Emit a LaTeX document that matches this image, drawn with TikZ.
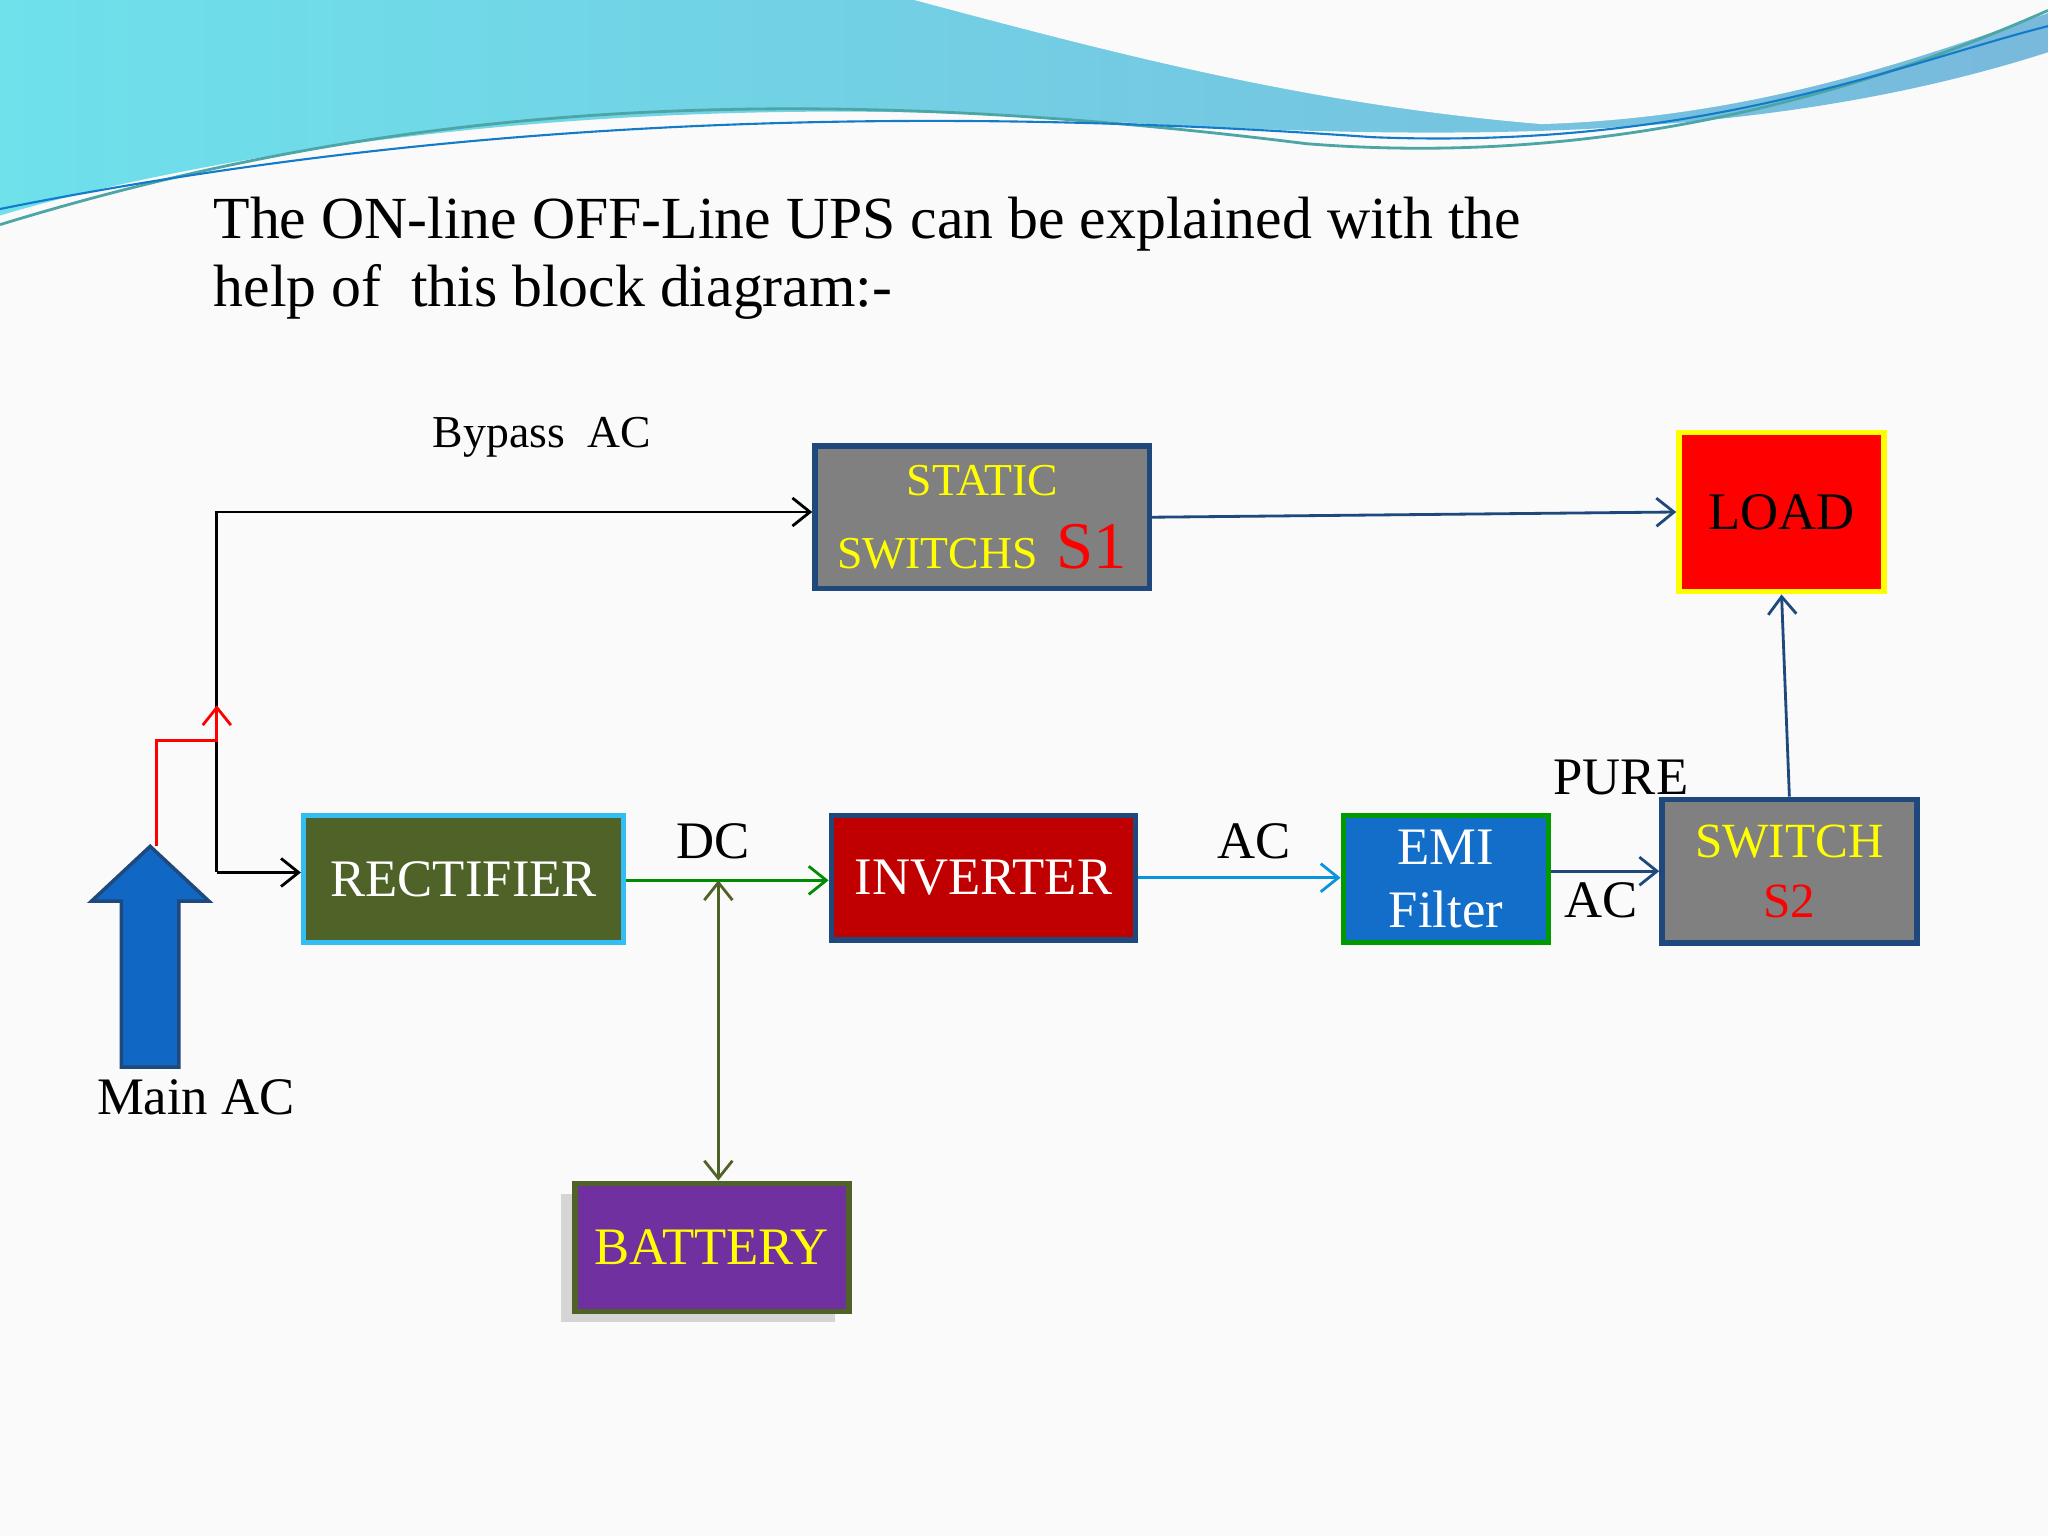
\documentclass[tikz,border=0pt]{standalone}
\usepackage{fontspec}
\setmainfont{Liberation Serif}
\usetikzlibrary{arrows.meta,shadows}
\definecolor{bdblue}{RGB}{31,73,125}
\definecolor{grayf}{RGB}{128,128,128}
\definecolor{olivef}{RGB}{79,98,40}
\definecolor{darkred}{RGB}{192,0,0}
\definecolor{emiblue}{RGB}{18,110,200}
\definecolor{purp}{RGB}{112,48,160}
\definecolor{yel}{RGB}{255,255,0}
\definecolor{arrblue}{RGB}{16,104,196}
\definecolor{waveL}{RGB}{110,225,235}
\definecolor{waveR}{RGB}{120,185,220}
\begin{document}
\begin{tikzpicture}[x=0.01306cm,y=-0.01306cm,
  blk/.style 2 args={draw,line width=1.6pt,minimum width={#1*0.3716pt},minimum height={#2*0.3716pt},inner sep=0pt,align=center,font=\fontsize{14}{17}\selectfont},
  con/.style={line width=0.8pt,-{Straight Barb[length=5pt,width=8pt]}},
  lbl/.style={font=\fontsize{13}{16}\selectfont}]
\useasboundingbox (0,0) rectangle (1568,1176);
\fill[white!96!gray] (0,0) rectangle (1568,1176);
% top wave
\shade[left color=waveL, right color=waveR]
 (0,0) -- (1568,0) -- (1568,40) .. controls (1350,110) and (1100,110) .. (800,90)
 .. controls (450,70) and (150,120) .. (0,165) -- cycle;
\fill[white!96!gray] (700,0) .. controls (850,40) and (1000,80) .. (1180,95) .. controls (1350,90) and (1480,40) .. (1568,10) -- (1568,0) -- cycle;
\draw[teal!70,line width=0.8pt] (0,172) .. controls (300,80) and (600,60) .. (1000,110) .. controls (1250,130) and (1450,60) .. (1568,8);
\draw[cyan!60!blue,line width=0.6pt] (0,160) .. controls (350,90) and (700,80) .. (1050,105) .. controls (1300,115) and (1450,50) .. (1568,20);
% title
\node[anchor=north west,align=left,font=\fontsize{17}{19.5}\selectfont,inner sep=0pt] (title) at (163,150)
 {The ON-line OFF-Line UPS can be explained with the\\help of~ this block diagram:-};
% blocks
\node[blk={256}{109},fill=grayf,draw=bdblue,font=\fontsize{13}{15}\selectfont] (s1) at (752,396)
 {\color{yel}STATIC\\[6pt]\color{yel}SWITCHS \,{\color{red}\fontsize{19}{19}\selectfont S1}};
\node[blk={157}{122},fill=red,draw=yel,font=\fontsize{15}{19}\selectfont] (load) at (1364,392) {LOAD};
\node[blk={245}{97},fill=olivef,draw=cyan!80,text=white,font=\fontsize{15}{19}\selectfont] (rect) at (355,673) {RECTIFIER};
\node[blk={233}{95},fill=darkred,draw=bdblue,text=white,font=\fontsize{15}{19}\selectfont] (inv) at (753,672) {INVERTER};
\node[blk={157}{97},fill=emiblue,draw=green!60!black,text=white,font=\fontsize{15}{18}\selectfont] (emi) at (1107,673) {EMI\\Filter};
\node[blk={195}{110},fill=grayf,draw=bdblue,font=\fontsize{14}{17}\selectfont] (s2) at (1370,667)
 {\color{yel}SWITCH\\\color{red}S2};
\node[blk={210}{98},fill=purp,draw=olivef,text=yel,font=\fontsize{15}{19}\selectfont,drop shadow={shadow xshift=-4pt,shadow yshift=-3pt,opacity=0.3}] (bat) at (545,955) {BATTERY};
% big arrow
\fill[arrblue,draw=bdblue,line width=1pt] (93,817) -- (137,817) -- (137,690) -- (160,690) -- (115,648) -- (70,690) -- (93,690) -- cycle;
\coordinate (tip) at (120,648);
\node[lbl,font=\fontsize{15}{18}\selectfont] (mainac) at (150,840) {Main AC};
% connectors
\coordinate (j) at (166,392);
\coordinate (k) at (166,668);
\draw[con,black] (k) -- (j) -- (s1.west |- j);
\draw[con,black] (k) -- (rect.west |- k);
\draw[con,red] (tip) -- (120,567) -- (166,567) -- (166,540);
\draw[con,bdblue] (s1.east) -- (load.west);
\draw[con,green!55!black] (rect.east |- 0,674) -- (inv.west |- 0,674);
\draw[con,cyan!80!blue] (inv.east |- 0,672) -- (emi.west |- 0,672);
\draw[con,bdblue] (emi.east |- 0,667) -- (s2.west |- 0,667);
\draw[con,bdblue] (s2.north) -- (load.south);
\draw[line width=0.8pt,olivef,{Straight Barb[length=5pt,width=8pt]}-{Straight Barb[length=5pt,width=8pt]}] (550,674) -- (bat.north -| 550,0);
% labels
\node[lbl] (byp) at (415,335) {Bypass~ AC};
\node[lbl,font=\fontsize{15}{18}\selectfont] (dc) at (546,644) {DC};
\node[lbl,font=\fontsize{15}{18}\selectfont] (ac1) at (960,644) {AC};
\node[lbl,font=\fontsize{15}{18}\selectfont] (pure) at (1241,595) {PURE};
\node[lbl,font=\fontsize{15}{18}\selectfont] (ac2) at (1226,689) {AC};
\end{tikzpicture}
\end{document}
